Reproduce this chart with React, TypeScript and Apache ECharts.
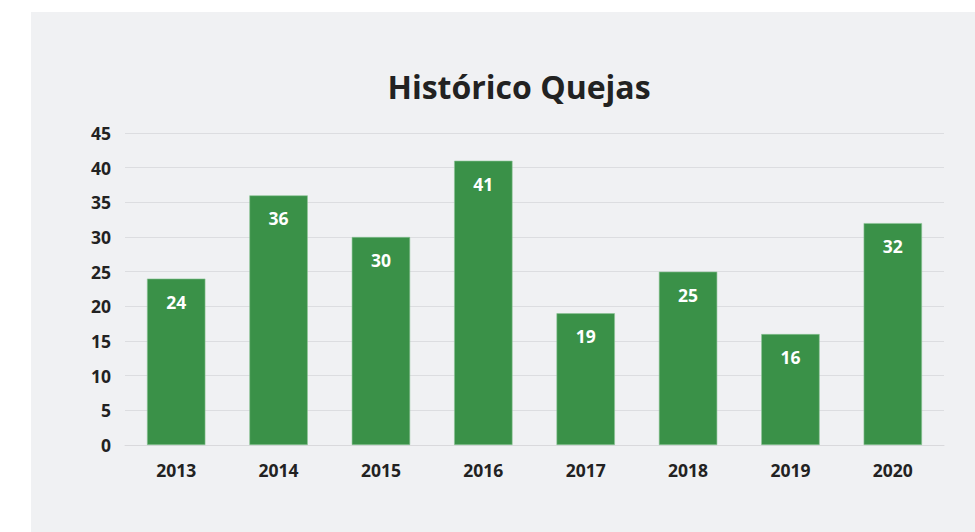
import React, { useEffect, useRef } from "react";
import * as echarts from "echarts";

const title = "Histórico Quejas";
const years = ["2013", "2014", "2015", "2016", "2017", "2018", "2019", "2020"];
const quejas = [24, 36, 30, 41, 19, 25, 16, 32];
const yTicks = { min: 0, max: 45, interval: 5 };

export default function App() {
  const ref = useRef<HTMLDivElement>(null);
  useEffect(() => {
    document.body.style.margin = "0";
    const chart = echarts.init(ref.current!, null, { renderer: "svg" });
    const font = "'Open Sans', Lato, sans-serif";
    chart.setOption({
      animation: false,
      backgroundColor: "#ffffff",
      graphic: [
        {
          type: "rect",
          z: -10,
          silent: true,
          shape: { x: 31, y: 12, width: 944, height: 520 },
          style: { fill: "#f0f1f3" },
        },
      ],
      title: {
        text: title,
        left: 514,
        textAlign: "center",
        top: 65,
        textStyle: { fontFamily: font, fontSize: 32, fontWeight: "bold", color: "#222222" },
      },
      grid: { left: 125, right: 31, top: 133, bottom: 87, containLabel: false },
      xAxis: {
        type: "category",
        data: years,
        axisLine: { lineStyle: { color: "#d9d9dc", width: 1 } },
        axisTick: { show: false },
        axisLabel: { margin: 16, fontFamily: font, fontSize: 17.5, fontWeight: "bold", color: "#222222" },
      },
      yAxis: {
        type: "value",
        min: yTicks.min,
        max: yTicks.max,
        interval: yTicks.interval,
        axisLine: { show: false },
        axisTick: { show: false },
        splitLine: { lineStyle: { color: "#dcdde0", width: 1 } },
        axisLabel: { margin: 14, fontFamily: font, fontSize: 17.5, fontWeight: "bold", color: "#222222" },
      },
      series: [
        {
          type: "bar",
          data: quejas,
          barWidth: "57%",
          itemStyle: { color: "#3a9148", borderColor: "#8cc596", borderWidth: 0.6 },
          label: {
            show: true,
            position: "insideTop",
            distance: 14,
            fontFamily: font,
            fontSize: 17.5,
            fontWeight: "bold",
            color: "#ffffff",
          },
        },
      ],
    });
    return () => chart.dispose();
  }, []);
  return <div ref={ref} style={{ position: "absolute", left: 0, top: 0, width: 975, height: 532 }} />;
}
